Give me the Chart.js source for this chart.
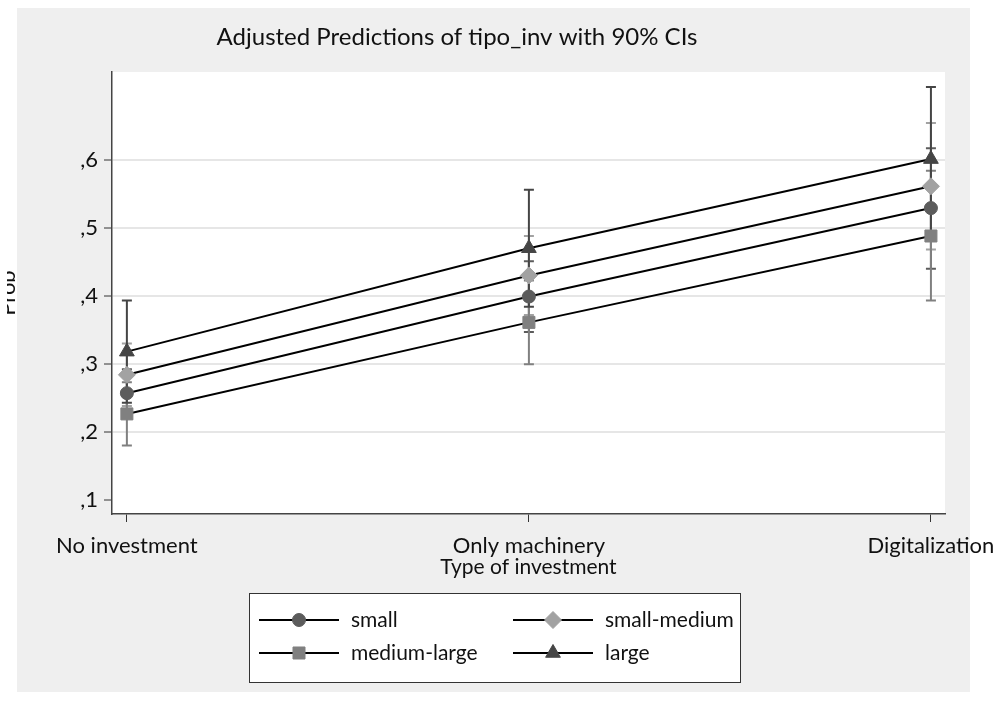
<!DOCTYPE html>
<html>
<head>
<meta charset="utf-8">
<script src="https://cdn.jsdelivr.net/npm/chart.js@4.4.0/dist/chart.umd.min.js"></script>
<style>
  html,body{margin:0;padding:0;background:#fff;}
  canvas{display:block;}
</style>
</head>
<body>
<canvas id="c" width="998" height="701"></canvas>
<script>
// category labels + numeric positions used by Stata's x axis
const categories=['No investment','Only machinery','Digitalization'];
const xValues=[1,2,3];
const yTickValues=[0.1,0.2,0.3,0.4,0.5,0.6];

// point estimates and 90% CI bounds
const smallY=[0.257,0.399,0.529];
const smallLo=[0.222,0.347,0.440];
const smallHi=[0.292,0.451,0.617];

const smallMedY=[0.284,0.430,0.561];
const smallMedLo=[0.238,0.372,0.468];
const smallMedHi=[0.330,0.488,0.654];

const medLargeY=[0.2265,0.361,0.488];
const medLargeLo=[0.180,0.2995,0.393];
const medLargeHi=[0.273,0.4225,0.584];

const largeY=[0.318,0.470,0.601];
const largeLo=[0.243,0.384,0.495];
const largeHi=[0.393,0.556,0.707];

const FONT='Lato, "Open Sans", sans-serif';

function pts(ys){ return xValues.map((x,i)=>({x,y:ys[i]})); }

function series(label,ys,lo,hi,color,style,radius){
  return {label,data:pts(ys),lo,hi,
    borderColor:'#000',borderWidth:2,
    pointStyle:style,pointRadius:radius,pointHoverRadius:radius,
    pointBackgroundColor:color,pointBorderColor:color,pointBorderWidth:1,
    ciColor:color,fill:false,tension:0};
}

const datasets=[
  series('small',smallY,smallLo,smallHi,'#5c5c5c','circle',6.5),
  series('small-medium',smallMedY,smallMedLo,smallMedHi,'#a2a2a2','rectRot',8.5),
  series('medium-large',medLargeY,medLargeLo,medLargeHi,'#808080','rect',8.5),
  series('large',largeY,largeLo,largeHi,'#454545','triangle',8.5),
];

// backgrounds: white page, grey graph region, white plot region
const bgPlugin={id:'bg',beforeDraw(chart){
  const {ctx,chartArea:a}=chart;
  ctx.save();
  ctx.fillStyle='#fff'; ctx.fillRect(0,0,chart.width,chart.height);
  ctx.fillStyle='#efefef'; ctx.fillRect(17,8,953,684);
  ctx.fillStyle='#fff'; ctx.fillRect(a.left,a.top,a.right-a.left,a.bottom-a.top);
  ctx.restore();
}};

// confidence interval caps, drawn under the lines
const ciPlugin={id:'ci',beforeDatasetsDraw(chart){
  const {ctx,scales:{x,y}}=chart;
  ctx.save();
  chart.data.datasets.forEach(ds=>{
    ctx.strokeStyle=ds.ciColor; ctx.lineWidth=2;
    xValues.forEach((xv,i)=>{
      const px=x.getPixelForValue(xv);
      const y1=y.getPixelForValue(ds.lo[i]), y2=y.getPixelForValue(ds.hi[i]);
      ctx.beginPath();
      ctx.moveTo(px,y1); ctx.lineTo(px,y2);
      ctx.moveTo(px-5,y1); ctx.lineTo(px+5,y1);
      ctx.moveTo(px-5,y2); ctx.lineTo(px+5,y2);
      ctx.stroke();
    });
  });
  ctx.restore();
}};

// title, axis titles and the boxed legend
const textPlugin={id:'txt',afterDraw(chart){
  const {ctx,chartArea:a}=chart;
  ctx.save();
  ctx.fillStyle='#111';
  ctx.textAlign='center'; ctx.textBaseline='middle';
  ctx.font='24px '+FONT;
  ctx.fillText('Adjusted Predictions of tipo_inv with 90% CIs',457,37);
  ctx.font='21px '+FONT;
  ctx.fillText('Type of investment',(a.left+a.right)/2,567);

  // y title, partly cut off at the left like in the source
  ctx.save();
  ctx.beginPath(); ctx.rect(7,0,20,chart.height); ctx.clip();
  ctx.translate(15,(a.top+a.bottom)/2); ctx.rotate(-Math.PI/2);
  ctx.textBaseline='alphabetic'; ctx.font='22px '+FONT;
  ctx.fillText('Prob',0,0);
  ctx.restore();

  // legend
  ctx.fillStyle='#fff'; ctx.fillRect(249,593,491,89);
  ctx.strokeStyle='#333'; ctx.lineWidth=1; ctx.strokeRect(249.5,593.5,491,89);
  const cols=[259,513], rows=[620,653];
  chart.data.datasets.forEach((ds,i)=>{
    const x0=cols[i%2], yy=rows[Math.floor(i/2)];
    ctx.strokeStyle='#000'; ctx.lineWidth=2;
    ctx.beginPath(); ctx.moveTo(x0,yy); ctx.lineTo(x0+80,yy); ctx.stroke();
    ctx.fillStyle=ds.pointBackgroundColor; ctx.strokeStyle=ds.pointBorderColor; ctx.lineWidth=1;
    Chart.helpers.drawPoint(ctx,{pointStyle:ds.pointStyle,radius:ds.pointRadius,rotation:0,borderWidth:1},x0+40,yy);
    ctx.fillStyle='#111'; ctx.textAlign='left'; ctx.textBaseline='middle';
    ctx.font='21px '+FONT;
    ctx.fillText(ds.label,x0+92,yy);
  });
  ctx.restore();
}};

new Chart(document.getElementById('c'),{
  type:'line',
  data:{datasets},
  options:{
    responsive:false,animation:false,devicePixelRatio:1,
    layout:{padding:{top:72,right:53,left:0,bottom:0}},
    plugins:{legend:{display:false},title:{display:false},tooltip:{enabled:false}},
    scales:{
      x:{type:'linear',min:0.963,max:3.035,
        afterBuildTicks(s){ s.ticks=xValues.map(v=>({value:v})); },
        afterFit(s){ s.height=187; s.paddingLeft=0; s.paddingRight=0; },
        grid:{drawOnChartArea:false,tickLength:8,tickColor:'#333',tickWidth:1},
        border:{display:true,color:'#444',width:1.5},
        ticks:{padding:11,color:'#111',font:{family:FONT,size:22},maxRotation:0,autoSkip:false,
          callback:v=>categories[xValues.indexOf(v)]}
      },
      y:{type:'linear',min:0.0794,max:0.729,
        afterBuildTicks(s){ s.ticks=yTickValues.map(v=>({value:v})); },
        afterFit(s){ s.width=112; s.paddingTop=0; s.paddingBottom=0; },
        grid:{color:c=>c.tick&&c.tick.value<0.15?'rgba(0,0,0,0)':'#e6e6e6',lineWidth:2,
          tickLength:8,tickColor:'#333',tickWidth:1},
        border:{display:true,color:'#444',width:1.5},
        ticks:{padding:6,color:'#111',font:{family:FONT,size:22},
          callback:v=>','+Math.round(v*10)}
      }
    }
  },
  plugins:[bgPlugin,ciPlugin,textPlugin]
});
</script>
</body>
</html>
